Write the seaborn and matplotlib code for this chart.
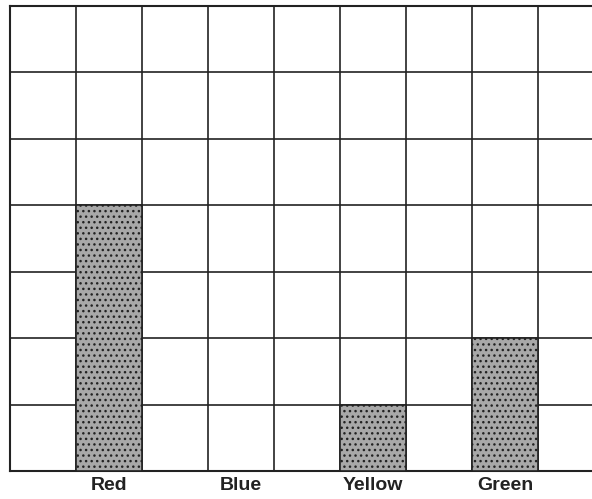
# Worksheet-style bar chart: number of children choosing each colour
import pandas as pd
import matplotlib
matplotlib.use("Agg")
import matplotlib.pyplot as plt
import seaborn as sns

colours = ["Red", "Blue", "Yellow", "Green"]
counts = [4, 0, 1, 2]
column_pos = [1.5, 3.5, 5.5, 7.5]

df = pd.DataFrame({"Colour": colours, "Count": counts, "Pos": column_pos})

sns.set_style("white")
plt.rcParams["font.family"] = ["Liberation Sans", "DejaVu Sans"]
plt.rcParams["hatch.linewidth"] = 1.0
plt.rcParams["hatch.color"] = "#333333"

fig = plt.figure(figsize=(5.92, 4.99), dpi=100)
ax = fig.add_axes([10 / 592, 28 / 499, 582 / 592, 465 / 499])

sns.barplot(data=df, x="Pos", y="Count", native_scale=True, width=0.5,
            color="#a8a8a8", saturation=1, edgecolor="#222222", linewidth=1.2,
            hatch="...", ax=ax, zorder=3)

ax.set_xlim(0, 582 / 66)
ax.set_ylim(0, 7)
ax.set_xticks(column_pos)
ax.set_xticklabels(colours, fontsize=14, fontweight="bold", color="#222222")
ax.set_xticks(range(0, 9), minor=True)
ax.set_yticks(range(0, 8))
ax.set_yticklabels([])
ax.tick_params(axis="both", which="both", length=0, pad=4)
ax.grid(True, which="minor", axis="x", color="#222222", linewidth=1.2, zorder=1)
ax.grid(True, which="major", axis="y", color="#222222", linewidth=1.2, zorder=1)
ax.grid(False, which="major", axis="x")
ax.set_axisbelow(True)
ax.set_xlabel("")
ax.set_ylabel("")

for side in ["left", "top", "bottom"]:
    ax.spines[side].set_color("#222222")
    ax.spines[side].set_linewidth(1.5)
ax.spines["right"].set_visible(False)

plt.savefig("out.png", dpi=100)
